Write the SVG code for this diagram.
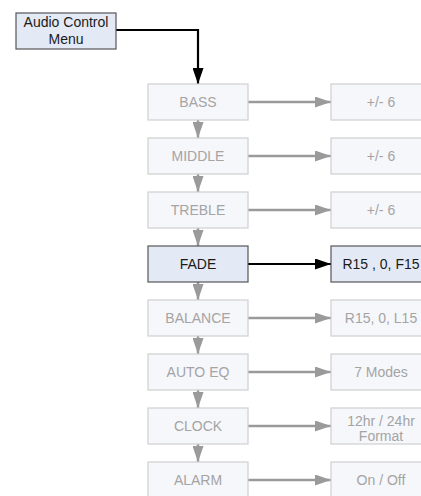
<svg xmlns="http://www.w3.org/2000/svg" width="421" height="496" viewBox="0 0 421 496">
<style>
text{font-family:"Liberation Sans",Arial,sans-serif;font-size:14px;text-anchor:middle}
.g rect{fill:#f6f7fb;stroke:#cfcfcf;stroke-width:1.2}
.g text{fill:#a4a4a4}
.a rect{fill:#e4eaf5;stroke:#555;stroke-width:1.2}
.a text{fill:#1a1a1a}
.cg{stroke:#9a9a9a;stroke-width:2.5;fill:none}
.cb{stroke:#000;stroke-width:2.2;fill:none}
</style>
<defs>
<marker id="mg" markerUnits="userSpaceOnUse" markerWidth="16" markerHeight="11" refX="16" refY="5.5" orient="auto"><path d="M0,0L16,5.5L0,11z" fill="#9a9a9a"/></marker>
<marker id="mb" markerUnits="userSpaceOnUse" markerWidth="16" markerHeight="11" refX="16" refY="5.5" orient="auto"><path d="M0,0L16,5.5L0,11z" fill="#000"/></marker>
</defs>
<rect width="421" height="496" fill="#fff"/>
<g id="connectors">
<path class="cb" d="M116,30H198V84" marker-end="url(#mb)"/>
<path class="cg" d="M198,120V138" marker-end="url(#mg)"/>
<path class="cg" d="M198,174V192" marker-end="url(#mg)"/>
<path class="cg" d="M198,228V246" marker-end="url(#mg)"/>
<path class="cg" d="M198,282V300" marker-end="url(#mg)"/>
<path class="cg" d="M198,336V354" marker-end="url(#mg)"/>
<path class="cg" d="M198,390V408" marker-end="url(#mg)"/>
<path class="cg" d="M198,444V462" marker-end="url(#mg)"/>
<path class="cg" d="M248,102H331" marker-end="url(#mg)"/>
<path class="cg" d="M248,156H331" marker-end="url(#mg)"/>
<path class="cg" d="M248,210H331" marker-end="url(#mg)"/>
<path class="cb" d="M248,264H331" marker-end="url(#mb)"/>
<path class="cg" d="M248,318H331" marker-end="url(#mg)"/>
<path class="cg" d="M248,372H331" marker-end="url(#mg)"/>
<path class="cg" d="M248,426H331" marker-end="url(#mg)"/>
<path class="cg" d="M248,480H331" marker-end="url(#mg)"/>
</g>
<g id="menu" class="a"><rect x="16" y="13" width="100" height="36"/><text x="66" y="27">Audio Control</text><text x="66" y="44">Menu</text></g>
<g id="bass" class="g"><rect x="148" y="84" width="100" height="36"/><text x="198" y="107">BASS</text></g>
<g id="middle" class="g"><rect x="148" y="138" width="100" height="36"/><text x="198" y="161">MIDDLE</text></g>
<g id="treble" class="g"><rect x="148" y="192" width="100" height="36"/><text x="198" y="215">TREBLE</text></g>
<g id="fade" class="a"><rect x="148" y="246" width="100" height="36"/><text x="198" y="269">FADE</text></g>
<g id="balance" class="g"><rect x="148" y="300" width="100" height="36"/><text x="198" y="323">BALANCE</text></g>
<g id="autoeq" class="g"><rect x="148" y="354" width="100" height="36"/><text x="198" y="377">AUTO EQ</text></g>
<g id="clock" class="g"><rect x="148" y="408" width="100" height="36"/><text x="198" y="431">CLOCK</text></g>
<g id="alarm" class="g"><rect x="148" y="462" width="100" height="36"/><text x="198" y="485">ALARM</text></g>
<g id="bass-val" class="g"><rect x="331" y="84" width="100" height="36"/><text x="381" y="107">+/- 6</text></g>
<g id="middle-val" class="g"><rect x="331" y="138" width="100" height="36"/><text x="381" y="161">+/- 6</text></g>
<g id="treble-val" class="g"><rect x="331" y="192" width="100" height="36"/><text x="381" y="215">+/- 6</text></g>
<g id="fade-val" class="a"><rect x="331" y="246" width="100" height="36"/><text x="381" y="269">R15 , 0, F15</text></g>
<g id="balance-val" class="g"><rect x="331" y="300" width="100" height="36"/><text x="381" y="323">R15, 0, L15</text></g>
<g id="autoeq-val" class="g"><rect x="331" y="354" width="100" height="36"/><text x="381" y="377">7 Modes</text></g>
<g id="clock-val" class="g"><rect x="331" y="408" width="100" height="36"/><text x="381" y="426">12hr / 24hr</text><text x="381" y="441">Format</text></g>
<g id="alarm-val" class="g"><rect x="331" y="462" width="100" height="36"/><text x="381" y="485">On / Off</text></g>
</svg>
